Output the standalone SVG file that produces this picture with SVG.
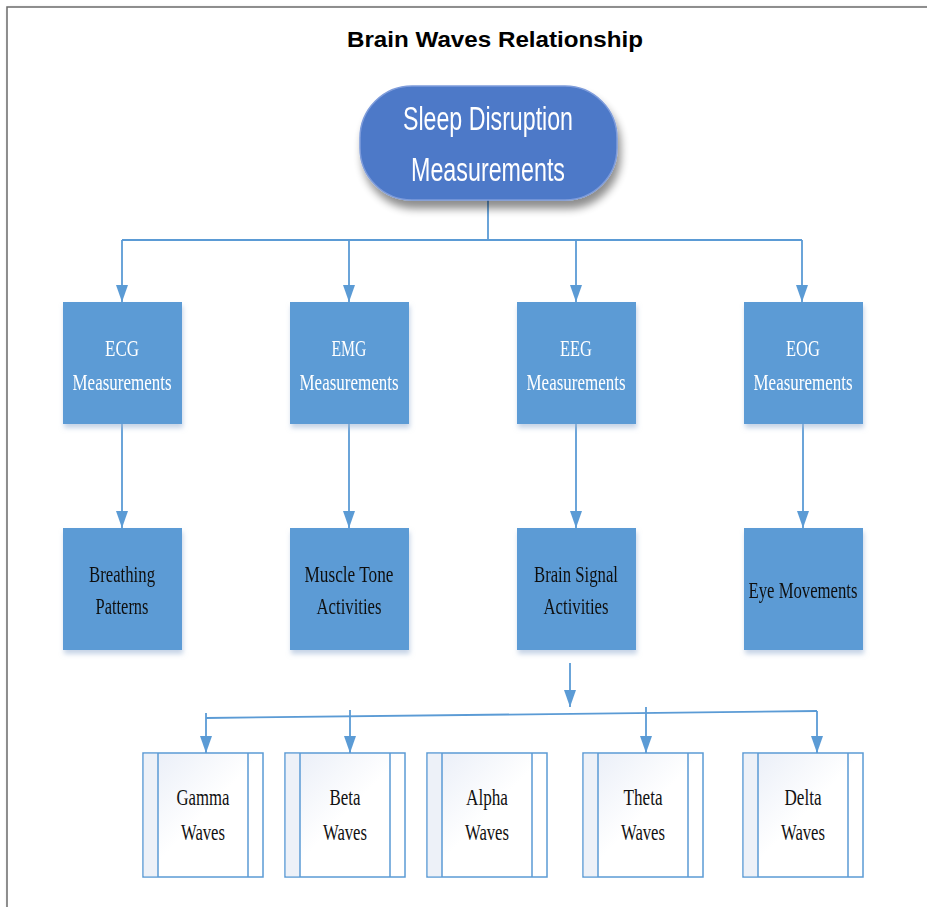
<svg xmlns="http://www.w3.org/2000/svg" width="927" height="907" viewBox="0 0 927 907">
  <defs>
    <style>
      .title { font-family: "Liberation Sans", Arial, sans-serif; font-weight: bold; font-size: 22px; fill: #000; }
      .pilltext { font-family: "Liberation Sans", Arial, sans-serif; font-size: 34px; fill: #fff; }
      .box { fill: #5b9bd5; }
      .wtext { font-family: "Liberation Serif", "Times New Roman", serif; font-size: 24px; fill: #fff; }
      .btext { font-family: "Liberation Serif", "Times New Roman", serif; font-size: 24px; fill: #111; }
      .wave { fill: url(#waveFill); stroke: #5b9bd5; stroke-width: 1.5; }
      .strip { fill: #edf1f8; stroke: none; }
      .divider { stroke: #5b9bd5; stroke-width: 1.5; fill: none; }
      .conn { stroke: #5b9bd5; stroke-width: 1.8; fill: none; }
    </style>
    <marker id="arrow" markerUnits="userSpaceOnUse" markerWidth="17" markerHeight="12" viewBox="0 0 17 12" refX="17" refY="6" orient="auto">
      <path d="M0,0 L17,6 L0,12 z" fill="#5b9bd5"/>
    </marker>
    <linearGradient id="waveFill" x1="0" y1="0" x2="1" y2="1">
      <stop offset="0" stop-color="#e8edf7"/>
      <stop offset="0.5" stop-color="#ffffff"/>
      <stop offset="1" stop-color="#ffffff"/>
    </linearGradient>
    <filter id="pillShadow" x="-20%" y="-20%" width="140%" height="150%">
      <feGaussianBlur in="SourceAlpha" stdDeviation="4"/>
      <feOffset dx="3" dy="8" result="b"/>
      <feComponentTransfer><feFuncA type="linear" slope="0.45"/></feComponentTransfer>
      <feMerge><feMergeNode/><feMergeNode in="SourceGraphic"/></feMerge>
    </filter>
    <filter id="boxShadow" x="-10%" y="-10%" width="120%" height="125%">
      <feGaussianBlur in="SourceAlpha" stdDeviation="2.5"/>
      <feOffset dx="1" dy="4" result="b"/>
      <feFlood flood-color="#9fb6d6" flood-opacity="0.6"/>
      <feComposite in2="b" operator="in"/>
      <feMerge><feMergeNode/><feMergeNode in="SourceGraphic"/></feMerge>
    </filter>
    <filter id="frameShadow" x="-5%" y="-5%" width="110%" height="110%">
      <feGaussianBlur in="SourceAlpha" stdDeviation="2"/>
      <feOffset dx="2" dy="2"/>
      <feComponentTransfer><feFuncA type="linear" slope="0.25"/></feComponentTransfer>
      <feMerge><feMergeNode/><feMergeNode in="SourceGraphic"/></feMerge>
    </filter>
  </defs>

  <rect width="927" height="907" fill="#fff"/>
  <!-- page frame -->
  <rect x="7" y="7" width="960" height="950" fill="#fff" stroke="#6b6b6b" stroke-width="1.5" filter="url(#frameShadow)"/>

  <text class="title" x="495" y="47" text-anchor="middle" textLength="296" lengthAdjust="spacingAndGlyphs">Brain Waves Relationship</text>

  <!-- connectors -->
  <g id="connectors">
    <path class="conn" d="M488,200 V240"/>
    <path class="conn" d="M122,240 H802"/>
    <path class="conn" d="M122,240 V302" marker-end="url(#arrow)"/>
    <path class="conn" d="M349,240 V302" marker-end="url(#arrow)"/>
    <path class="conn" d="M576,240 V302" marker-end="url(#arrow)"/>
    <path class="conn" d="M802,240 V302" marker-end="url(#arrow)"/>

    <path class="conn" d="M122,424 V528" marker-end="url(#arrow)"/>
    <path class="conn" d="M349,424 V528" marker-end="url(#arrow)"/>
    <path class="conn" d="M576,424 V528" marker-end="url(#arrow)"/>
    <path class="conn" d="M803,424 V528" marker-end="url(#arrow)"/>

    <path class="conn" d="M570,663 V707" marker-end="url(#arrow)"/>
    <path class="conn" d="M206,718 L817,711"/>
    <path class="conn" d="M206,713 V753" marker-end="url(#arrow)"/>
    <path class="conn" d="M350,710 V753" marker-end="url(#arrow)"/>
    <path class="conn" d="M646,707 V753" marker-end="url(#arrow)"/>
    <path class="conn" d="M817,711 V753" marker-end="url(#arrow)"/>
  </g>

  <!-- root -->
  <g id="sleep-disruption" filter="url(#pillShadow)">
    <rect x="360" y="86" width="257" height="114" rx="52" ry="52" fill="#4e79c8" stroke="#7e9cdb" stroke-width="1.5"/>
    <text class="pilltext" x="488" y="130" text-anchor="middle" textLength="170" lengthAdjust="spacingAndGlyphs">Sleep Disruption</text>
    <text class="pilltext" x="488" y="181" text-anchor="middle" textLength="154" lengthAdjust="spacingAndGlyphs">Measurements</text>
  </g>

  <!-- measurement row -->
  <g id="ecg" filter="url(#boxShadow)">
    <rect class="box" x="63" y="302" width="119" height="122"/>
    <text class="wtext" x="122" y="356" text-anchor="middle" textLength="34" lengthAdjust="spacingAndGlyphs">ECG</text>
    <text class="wtext" x="122" y="390" text-anchor="middle" textLength="99" lengthAdjust="spacingAndGlyphs">Measurements</text>
  </g>
  <g id="emg" filter="url(#boxShadow)">
    <rect class="box" x="290" y="302" width="119" height="122"/>
    <text class="wtext" x="349" y="356" text-anchor="middle" textLength="35" lengthAdjust="spacingAndGlyphs">EMG</text>
    <text class="wtext" x="349" y="390" text-anchor="middle" textLength="99" lengthAdjust="spacingAndGlyphs">Measurements</text>
  </g>
  <g id="eeg" filter="url(#boxShadow)">
    <rect class="box" x="517" y="302" width="119" height="122"/>
    <text class="wtext" x="576" y="356" text-anchor="middle" textLength="32" lengthAdjust="spacingAndGlyphs">EEG</text>
    <text class="wtext" x="576" y="390" text-anchor="middle" textLength="99" lengthAdjust="spacingAndGlyphs">Measurements</text>
  </g>
  <g id="eog" filter="url(#boxShadow)">
    <rect class="box" x="744" y="302" width="119" height="122"/>
    <text class="wtext" x="803" y="356" text-anchor="middle" textLength="34" lengthAdjust="spacingAndGlyphs">EOG</text>
    <text class="wtext" x="803" y="390" text-anchor="middle" textLength="99" lengthAdjust="spacingAndGlyphs">Measurements</text>
  </g>

  <!-- activity row -->
  <g id="breathing" filter="url(#boxShadow)">
    <rect class="box" x="63" y="528" width="119" height="122"/>
    <text class="btext" x="122" y="582" text-anchor="middle" textLength="66" lengthAdjust="spacingAndGlyphs">Breathing</text>
    <text class="btext" x="122" y="614" text-anchor="middle" textLength="53" lengthAdjust="spacingAndGlyphs">Patterns</text>
  </g>
  <g id="muscle-tone" filter="url(#boxShadow)">
    <rect class="box" x="290" y="528" width="119" height="122"/>
    <text class="btext" x="349" y="582" text-anchor="middle" textLength="89" lengthAdjust="spacingAndGlyphs">Muscle Tone</text>
    <text class="btext" x="349" y="614" text-anchor="middle" textLength="65" lengthAdjust="spacingAndGlyphs">Activities</text>
  </g>
  <g id="brain-signal" filter="url(#boxShadow)">
    <rect class="box" x="517" y="528" width="119" height="122"/>
    <text class="btext" x="576" y="582" text-anchor="middle" textLength="84" lengthAdjust="spacingAndGlyphs">Brain Signal</text>
    <text class="btext" x="576" y="614" text-anchor="middle" textLength="65" lengthAdjust="spacingAndGlyphs">Activities</text>
  </g>
  <g id="eye-movements" filter="url(#boxShadow)">
    <rect class="box" x="744" y="528" width="119" height="122"/>
    <text class="btext" x="803" y="598" text-anchor="middle" textLength="109" lengthAdjust="spacingAndGlyphs">Eye Movements</text>
  </g>

  <!-- wave bands -->
  <g id="gamma">
    <rect class="wave" x="143" y="753" width="120" height="124"/>
    <rect class="strip" x="143.8" y="753.8" width="14.2" height="122.4"/>
    <path class="divider" d="M158,753 V877 M248,753 V877"/>
    <text class="btext" x="203" y="805" text-anchor="middle" textLength="53" lengthAdjust="spacingAndGlyphs">Gamma</text>
    <text class="btext" x="203" y="840" text-anchor="middle" textLength="44" lengthAdjust="spacingAndGlyphs">Waves</text>
  </g>
  <g id="beta">
    <rect class="wave" x="285" y="753" width="120" height="124"/>
    <rect class="strip" x="285.8" y="753.8" width="14.2" height="122.4"/>
    <path class="divider" d="M300,753 V877 M390,753 V877"/>
    <text class="btext" x="345" y="805" text-anchor="middle" textLength="31" lengthAdjust="spacingAndGlyphs">Beta</text>
    <text class="btext" x="345" y="840" text-anchor="middle" textLength="44" lengthAdjust="spacingAndGlyphs">Waves</text>
  </g>
  <g id="alpha">
    <rect class="wave" x="427" y="753" width="120" height="124"/>
    <rect class="strip" x="427.8" y="753.8" width="14.2" height="122.4"/>
    <path class="divider" d="M442,753 V877 M532,753 V877"/>
    <text class="btext" x="487" y="805" text-anchor="middle" textLength="42" lengthAdjust="spacingAndGlyphs">Alpha</text>
    <text class="btext" x="487" y="840" text-anchor="middle" textLength="44" lengthAdjust="spacingAndGlyphs">Waves</text>
  </g>
  <g id="theta">
    <rect class="wave" x="583" y="753" width="120" height="124"/>
    <rect class="strip" x="583.8" y="753.8" width="14.2" height="122.4"/>
    <path class="divider" d="M598,753 V877 M688,753 V877"/>
    <text class="btext" x="643" y="805" text-anchor="middle" textLength="39" lengthAdjust="spacingAndGlyphs">Theta</text>
    <text class="btext" x="643" y="840" text-anchor="middle" textLength="44" lengthAdjust="spacingAndGlyphs">Waves</text>
  </g>
  <g id="delta">
    <rect class="wave" x="743" y="753" width="120" height="124"/>
    <rect class="strip" x="743.8" y="753.8" width="14.2" height="122.4"/>
    <path class="divider" d="M758,753 V877 M848,753 V877"/>
    <text class="btext" x="803" y="805" text-anchor="middle" textLength="37" lengthAdjust="spacingAndGlyphs">Delta</text>
    <text class="btext" x="803" y="840" text-anchor="middle" textLength="44" lengthAdjust="spacingAndGlyphs">Waves</text>
  </g>
</svg>
